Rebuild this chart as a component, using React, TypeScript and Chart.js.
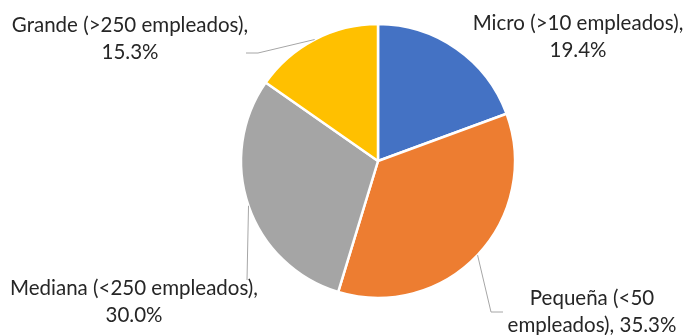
import React, { useEffect, useRef } from "react";
import { Chart, registerables } from "chart.js";

Chart.register(...registerables);

const categories = [
  "Micro (>10 empleados)",
  "Pequeña (<50 empleados)",
  "Mediana (<250 empleados)",
  "Grande (>250 empleados)",
];
const shares = [19.4, 35.3, 30.0, 15.3];
const colors = ["#4472C4", "#ED7D31", "#A5A5A5", "#FFC000"];

// label text lines, label centre, leader path (elbow points after arc anchor)
const labelLines = [
  ["Micro (>10 empleados),", "19.4%"],
  ["Pequeña (<50", "empleados), 35.3%"],
  ["Mediana (<250 empleados),", "30.0%"],
  ["Grande (>250 empleados),", "15.3%"],
];
const LAYOUT = [
  { cx: 578, cy: 23, leader: [] as number[][] },
  { cx: 592, cy: 298, leader: [[491, 312], [503, 312]] },
  { cx: 134, cy: 288, leader: [[247, 280]] },
  { cx: 130, cy: 25, leader: [[258, 53], [246, 53]] },
];
const FONT = '20.5px Lato, "Noto Sans", sans-serif';
const LINE_H = 27;

const labelPlugin = {
  id: "pieLabels",
  afterDraw(chart: any) {
    const ctx = chart.ctx;
    const meta = chart.getDatasetMeta(0);
    ctx.save();
    meta.data.forEach((arc: any, i: number) => {
      const lay = LAYOUT[i];
      if (lay.leader.length) {
        const mid = (arc.startAngle + arc.endAngle) / 2;
        const r = arc.outerRadius;
        const sx = arc.x + Math.cos(mid) * r;
        const sy = arc.y + Math.sin(mid) * r;
        ctx.beginPath();
        ctx.moveTo(sx, sy);
        lay.leader.forEach((p) => ctx.lineTo(p[0], p[1]));
        ctx.strokeStyle = "#A6A6A6";
        ctx.lineWidth = 1;
        ctx.stroke();
      }
      ctx.font = FONT;
      ctx.fillStyle = "#262626";
      ctx.textAlign = "center";
      ctx.textBaseline = "middle";
      labelLines[i].forEach((t, k) => {
        ctx.fillText(t, lay.cx, lay.cy + k * LINE_H);
      });
    });
    ctx.restore();
  },
};

export default function App() {
  const ref = useRef<HTMLCanvasElement>(null);
  useEffect(() => {
    const chart = new Chart(ref.current!, {
      type: "pie",
      data: {
        labels: categories,
        datasets: [
          {
            data: shares,
            backgroundColor: colors,
            borderColor: "#FFFFFF",
            borderWidth: 2.5,
            radius: 137,
          } as any,
        ],
      },
      options: {
        animation: false,
        responsive: false,
        layout: { padding: { left: 71, right: 0, top: 0, bottom: 13 } },
        plugins: { legend: { display: false }, tooltip: { enabled: false } },
      },
      plugins: [labelPlugin],
    });
    return () => chart.destroy();
  }, []);
  return (
    <div style={{ position: "fixed", left: 0, top: 0, width: 685, height: 335, background: "#fff" }}>
      <canvas ref={ref} width={685} height={335} />
    </div>
  );
}
